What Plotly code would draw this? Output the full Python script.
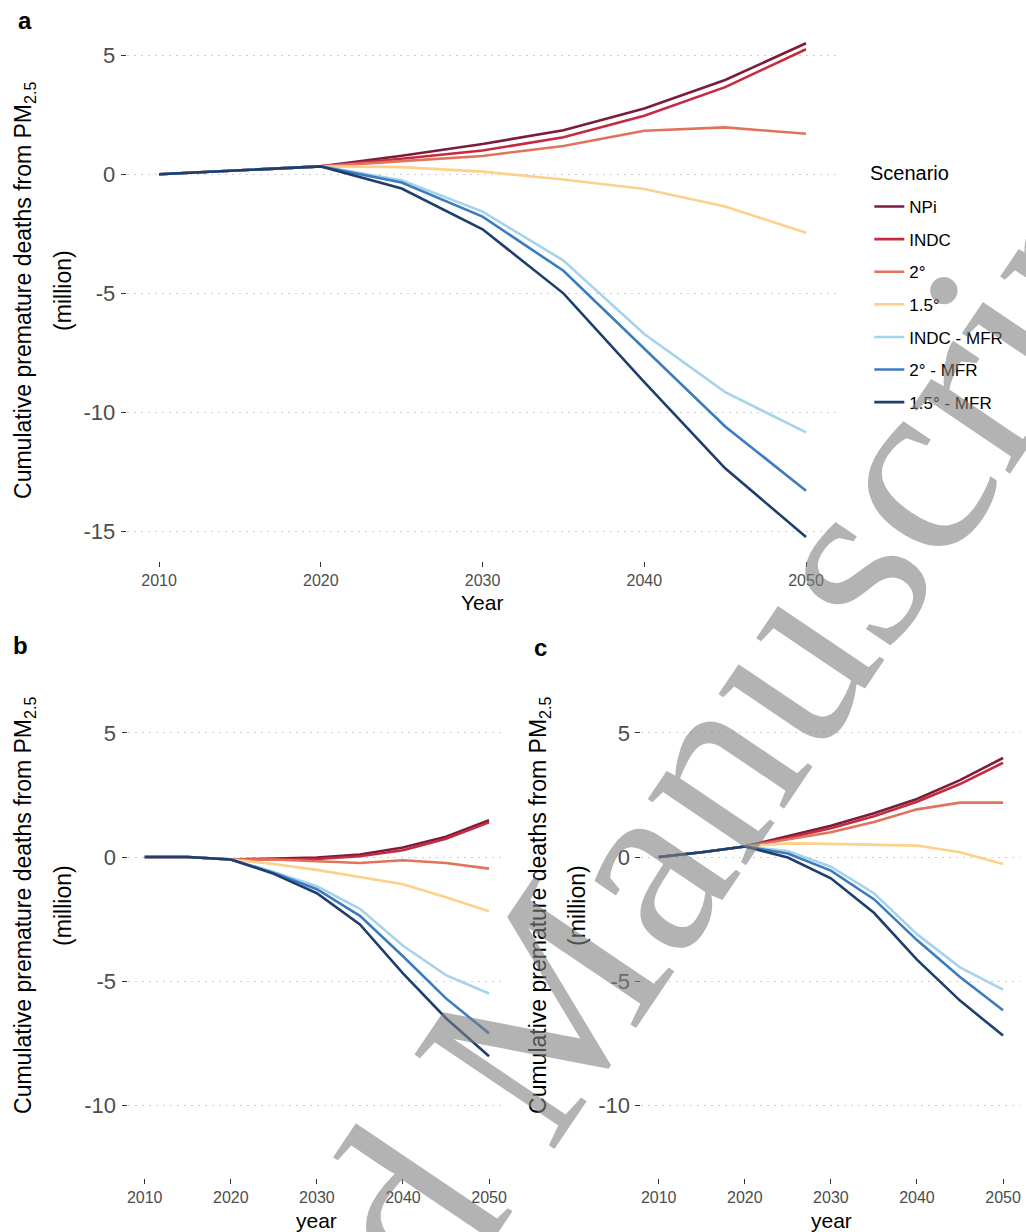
import plotly.graph_objects as go

years = [2010, 2015, 2020, 2025, 2030, 2035, 2040, 2045, 2050]
scenarios = ["NPi", "INDC", "2°", "1.5°", "INDC - MFR", "2° - MFR", "1.5° - MFR"]
colors = ["#7b1c3b", "#c52a3f", "#e2735b", "#fdd08c", "#a6d3ea", "#3b7bc0", "#1e3f6e"]

# Panel a
a_npi = [0, 0.15, 0.33, 0.78, 1.27, 1.85, 2.76, 3.96, 5.50]
a_indc = [0, 0.15, 0.33, 0.65, 1.00, 1.55, 2.46, 3.66, 5.25]
a_2 = [0, 0.15, 0.33, 0.55, 0.77, 1.19, 1.83, 1.97, 1.70]
a_15 = [0, 0.15, 0.33, 0.30, 0.11, -0.22, -0.62, -1.35, -2.46]
a_indc_mfr = [0, 0.15, 0.33, -0.25, -1.57, -3.62, -6.71, -9.15, -10.84]
a_2_mfr = [0, 0.15, 0.33, -0.35, -1.78, -4.05, -7.32, -10.59, -13.29]
a_15_mfr = [0, 0.15, 0.33, -0.60, -2.31, -5.00, -8.73, -12.35, -15.23]

# Panel b
b_npi = [0, 0, -0.10, -0.05, -0.02, 0.10, 0.38, 0.82, 1.48]
b_indc = [0, 0, -0.10, -0.08, -0.08, 0.03, 0.27, 0.74, 1.40]
b_2 = [0, 0, -0.10, -0.10, -0.17, -0.24, -0.13, -0.24, -0.47]
b_15 = [0, 0, -0.10, -0.28, -0.52, -0.80, -1.10, -1.62, -2.19]
b_indc_mfr = [0, 0, -0.10, -0.60, -1.18, -2.09, -3.58, -4.76, -5.50]
b_2_mfr = [0, 0, -0.10, -0.64, -1.30, -2.37, -4.00, -5.70, -7.11]
b_15_mfr = [0, 0, -0.10, -0.68, -1.46, -2.72, -4.69, -6.50, -8.03]

# Panel c
c_npi = [0, 0.19, 0.42, 0.85, 1.26, 1.76, 2.34, 3.10, 3.99]
c_indc = [0, 0.19, 0.42, 0.77, 1.16, 1.64, 2.23, 2.94, 3.80]
c_2 = [0, 0.19, 0.42, 0.71, 1.00, 1.41, 1.92, 2.19, 2.19]
c_15 = [0, 0.19, 0.42, 0.55, 0.53, 0.49, 0.46, 0.19, -0.28]
c_indc_mfr = [0, 0.19, 0.42, 0.24, -0.39, -1.46, -3.11, -4.45, -5.35]
c_2_mfr = [0, 0.19, 0.42, 0.14, -0.55, -1.70, -3.35, -4.84, -6.18]
c_15_mfr = [0, 0.19, 0.42, -0.02, -0.86, -2.25, -4.14, -5.79, -7.20]

x_ticks = [2010, 2020, 2030, 2040, 2050]
y_ticks_a = [5, 0, -5, -10, -15]
y_ticks_bc = [5, 0, -5, -10]

panels = [
    ("x", "y", [a_npi, a_indc, a_2, a_15, a_indc_mfr, a_2_mfr, a_15_mfr], True),
    ("x2", "y2", [b_npi, b_indc, b_2, b_15, b_indc_mfr, b_2_mfr, b_15_mfr], False),
    ("x3", "y3", [c_npi, c_indc, c_2, c_15, c_indc_mfr, c_2_mfr, c_15_mfr], False),
]

fig = go.Figure()
for xa, ya, series, show in panels:
    for name, col, vals in zip(scenarios, colors, series):
        fig.add_trace(go.Scatter(
            x=years, y=vals, mode="lines", name=name,
            line=dict(color=col, width=2.6),
            xaxis=xa, yaxis=ya, showlegend=show, legendgroup=name,
        ))

W, H = 1026, 1232
TICKGREY = "#4d4d4d"


def xaxis(x0, x1, anchor):
    return dict(domain=[x0 / W, x1 / W], range=[2008, 2052], anchor=anchor,
                tickvals=x_ticks, ticktext=[str(v) for v in x_ticks],
                ticks="outside", ticklen=5, tickwidth=1.3, tickcolor="#333333",
                tickfont=dict(family="Liberation Sans, Arial", size=16, color=TICKGREY),
                showgrid=False, zeroline=False, showline=False)


def yaxis(top, bottom, rng, tv, anchor):
    return dict(domain=[1 - bottom / H, 1 - top / H], range=rng, anchor=anchor,
                tickvals=tv, ticktext=[str(v) for v in tv],
                ticks="outside", ticklen=5, tickwidth=1.3, tickcolor="#333333",
                tickfont=dict(family="Liberation Sans, Arial", size=22, color=TICKGREY),
                ticklabelstandoff=1,
                showgrid=True, gridcolor="#cfcfcf", gridwidth=1.3, griddash="2px,5px",
                zeroline=False, showline=False)


fig.update_layout(
    width=W, height=H, autosize=False,
    margin=dict(l=0, r=0, t=0, b=0),
    paper_bgcolor="white", plot_bgcolor="white",
    font=dict(family="Liberation Sans, Arial", color="black"),
    xaxis=xaxis(126, 839, "y"),
    yaxis=yaxis(19, 561, [-16.24, 6.52], y_ticks_a, "x"),
    xaxis2=xaxis(126.75, 506.25, "y2"),
    yaxis2=yaxis(632, 1178, [-12.94, 9.07], y_ticks_bc, "x2"),
    xaxis3=xaxis(641.75, 1021.25, "y3"),
    yaxis3=yaxis(632, 1178, [-12.94, 9.07], y_ticks_bc, "x3"),
    legend=dict(
        x=870 / W, xanchor="left", y=1 - 189 / H, yanchor="top",
        font=dict(size=17, color="black"),
        tracegroupgap=7.5, bgcolor="rgba(0,0,0,0)",
        itemwidth=30,
    ),
    showlegend=True,
)

ann = []
# legend title
ann.append(dict(text="Scenario", x=869 / W, y=1 - 173 / H, xref="paper", yref="paper",
                showarrow=False, xanchor="left", yanchor="middle",
                font=dict(size=20, color="black")))
# y-axis titles (two lines each)
for cx1, cx2, cy in [(23, 62, 290), (23, 62, 905), (539, 577, 905)]:
    ann.append(dict(text="Cumulative premature deaths from PM<sub>2.5</sub>",
                    x=cx1 / W, y=1 - cy / H, xref="paper", yref="paper",
                    textangle=-90, showarrow=False, xanchor="center", yanchor="middle",
                    font=dict(size=23, color="black")))
    ann.append(dict(text="(million)",
                    x=cx2 / W, y=1 - cy / H, xref="paper", yref="paper",
                    textangle=-90, showarrow=False, xanchor="center", yanchor="middle",
                    font=dict(size=23, color="black")))
# x-axis titles
for txt, cx, cy in [("Year", 482, 602), ("year", 316, 1220), ("year", 832, 1220)]:
    ann.append(dict(text=txt, x=cx / W, y=1 - cy / H, xref="paper", yref="paper",
                    showarrow=False, xanchor="center", yanchor="middle",
                    font=dict(size=21, color="black")))
# panel labels
for txt, cx, cy in [("a", 24, 20), ("b", 20, 645), ("c", 541, 647)]:
    ann.append(dict(text="<b>" + txt + "</b>", x=cx / W, y=1 - cy / H, xref="paper", yref="paper",
                    showarrow=False, xanchor="center", yanchor="middle",
                    font=dict(size=24, color="black")))
# watermark
ann.append(dict(text="Accepted Manuscript", x=517 / W, y=1 - 1049 / H, xref="paper", yref="paper",
                showarrow=False, xanchor="center", yanchor="middle", textangle=-56,
                font=dict(family="Liberation Serif, Times New Roman", size=258,
                          color="rgba(128,128,128,0.6)")))
fig.update_layout(annotations=ann)

fig.write_html("out.html")
